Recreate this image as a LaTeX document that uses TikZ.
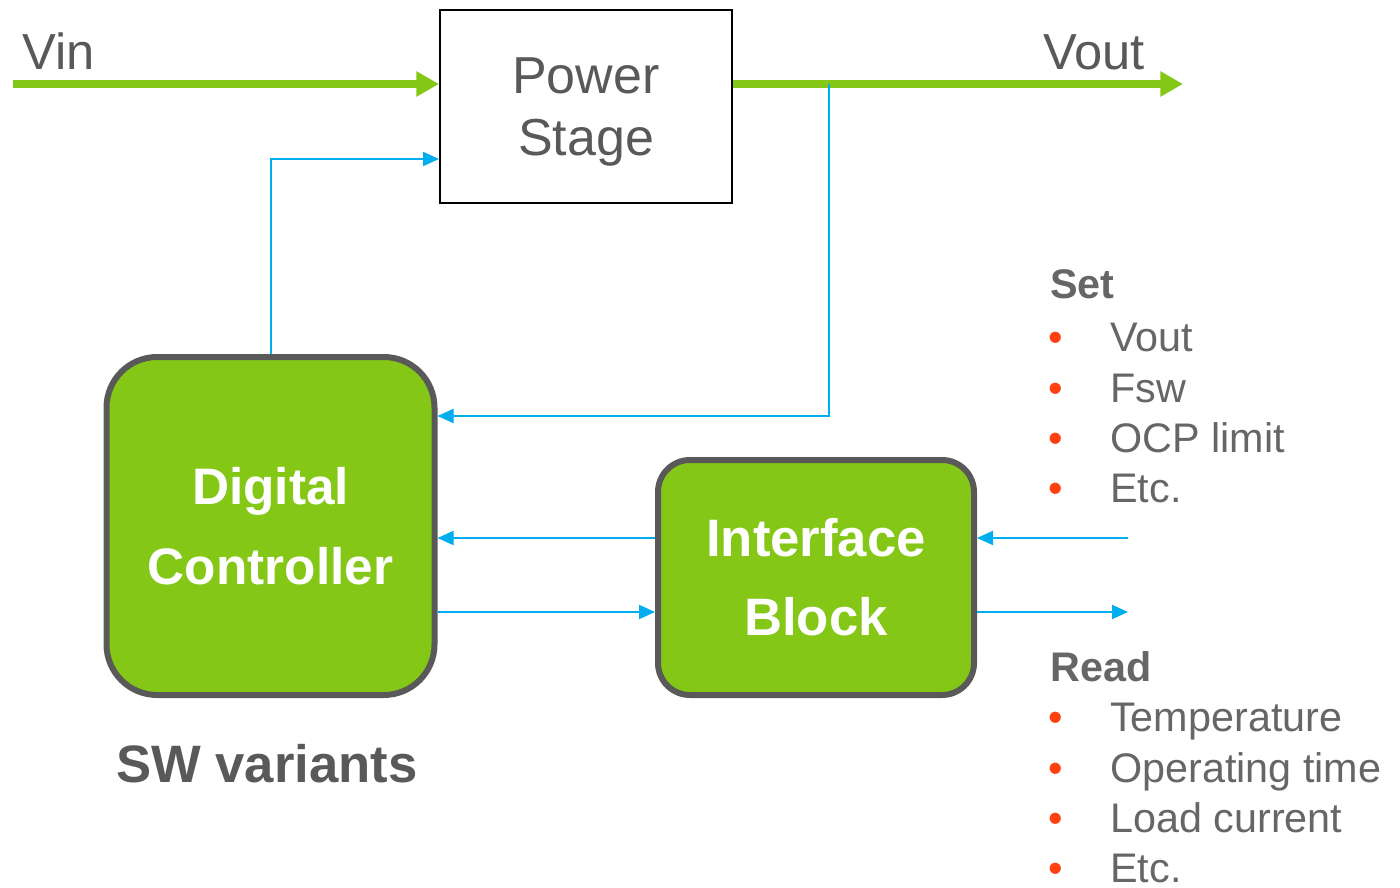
\documentclass[tikz,border=0pt]{standalone}
\usepackage{fontspec}
\setmainfont{Liberation Sans}
\usetikzlibrary{arrows.meta}
\definecolor{grn}{RGB}{132,199,22}
\definecolor{bdr}{RGB}{89,89,89}
\definecolor{txt}{RGB}{89,89,89}
\definecolor{lst}{RGB}{102,102,102}
\definecolor{blu}{RGB}{0,174,239}
\definecolor{bul}{RGB}{255,64,16}
\begin{document}
\begin{tikzpicture}[x=0.75pt,y=-0.75pt,
  power/.style={draw=grn, line width=6pt, -{Triangle[length=17pt,width=18pt]}},
  sig/.style={draw=blu, line width=1.5pt, -{Triangle[length=12pt,width=10.5pt]}},
  greenbox/.style={draw=bdr, fill=grn, line width=4.5pt, text=white, align=center, inner sep=0pt},
  psbox/.style={draw=black, line width=1.5pt, text=txt, align=center, inner sep=0pt,
    font=\fontsize{39}{47}\selectfont},
  biglabel/.style={text=txt, inner sep=0pt, anchor=base west, font=\fontsize{38}{46}\selectfont},
  head/.style={text=lst, inner sep=0pt, anchor=base west, font=\bfseries\fontsize{31}{38}\selectfont},
  item/.style={text=lst, inner sep=0pt, anchor=base west, font=\fontsize{31}{38}\selectfont},
]
\useasboundingbox (0,0) rectangle (1400,888);

% boxes
\node[psbox, minimum width=219pt, minimum height=144.75pt] (ps) at (586,106.5) {Power\\\smash{Stage}};
\node[greenbox, rounded corners=38pt, minimum width=246pt, minimum height=253.5pt,
  font=\bfseries\fontsize{38.5}{60}\selectfont] (dc) at (270.5,526) {Digital\\Controller};
\node[greenbox, rounded corners=24pt, minimum width=237pt, minimum height=176.25pt,
  font=\bfseries\fontsize{39.5}{59}\selectfont] (ib) at (816,577.5) {Interface\\Block};

% labels
\node[biglabel] (vinl) at (22,70) {Vin};
\node[biglabel] (voutl) at (1043,70) {Vout};
\node[text=txt, inner sep=0pt, anchor=base, font=\bfseries\fontsize{39.5}{48}\selectfont] (sw) at (267,782) {SW variants};

% helper coordinates
\coordinate (vin) at (13,84);
\coordinate (vout) at (1183,84);
\coordinate (tap) at (829,84);
\coordinate (yctl) at (0,159);
\coordinate (yfb) at (0,416);
\coordinate (y1) at (0,538);
\coordinate (y2) at (0,612);
\coordinate (ext1) at (1128,538);
\coordinate (ext2) at (1128,612);

% power path
\draw[power] (vin) -- (vin -| ps.west);
\draw[power] (vin -| ps.east) -- (vout);

% signals
\draw[sig] (dc.north) |- (ps.west |- yctl);
\draw[sig] (tap) |- (dc.east |- yfb);
\draw[sig] (ib.west |- y1) -- (dc.east |- y1);
\draw[sig] (dc.east |- y2) -- (ib.west |- y2);
\draw[sig] (ext1) -- (ext1 -| ib.east);
\draw[sig] (ib.east |- y2) -- (ext2);

% lists
\newcommand{\bl}{\makebox[46.5pt][l]{\textcolor{bul}{•}}}
\node[head] (set) at (1050,298) {Set};
\node[item] (s1) at (1048,351) {\bl Vout};
\node[item] (s2) at (1048,402) {\bl Fsw};
\node[item] (s3) at (1048,452) {\bl OCP limit};
\node[item] (s4) at (1048,502) {\bl Etc.};
\node[head] (read) at (1050,681) {Read};
\node[item] (r1) at (1048,731) {\bl Temperature};
\node[item] (r2) at (1048,782) {\bl Operating time};
\node[item] (r3) at (1048,832) {\bl Load current};
\node[item] (r4) at (1048,882) {\bl Etc.};
\end{tikzpicture}
\end{document}
